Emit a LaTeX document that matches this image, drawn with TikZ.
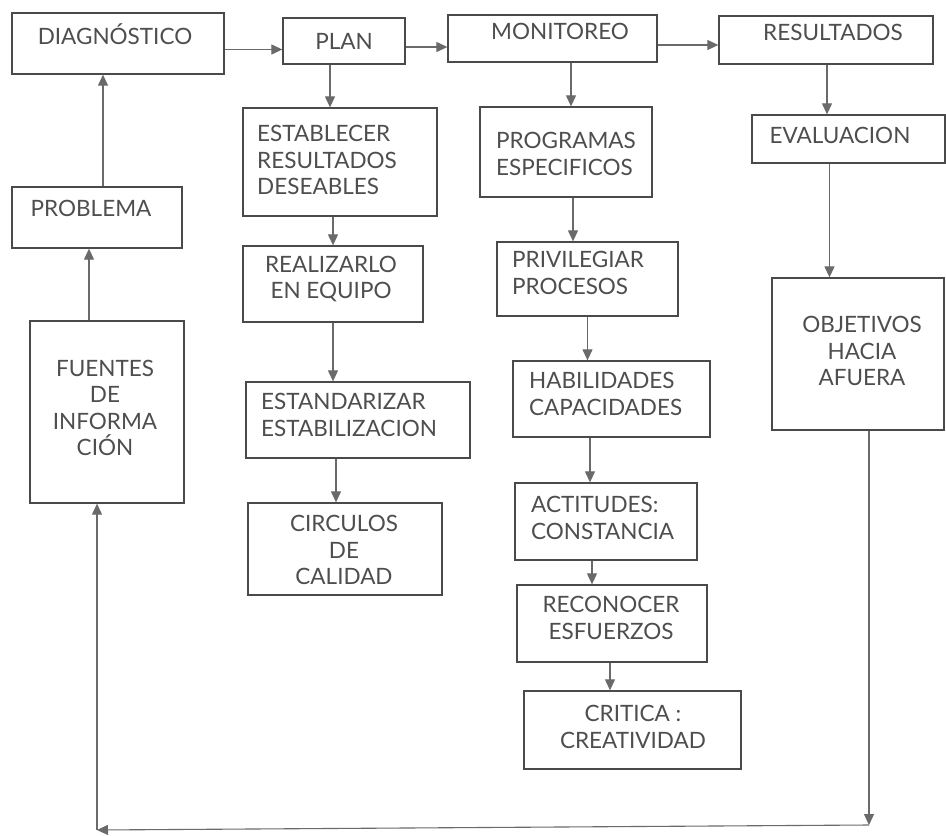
\documentclass[tikz,border=0pt]{standalone}
\usepackage{fontspec}
\setmainfont{Lato}
\usetikzlibrary{arrows.meta}
\definecolor{boxc}{HTML}{4A4A4A}
\definecolor{txtc}{HTML}{4E4E4E}
\definecolor{arrc}{HTML}{6A6A6A}
\tikzset{
  box/.style={draw=boxc, line width=1.3pt, inner sep=0pt},
  txt/.style={text=txtc, font=\fontsize{22.5}{26.5}\selectfont, inner sep=0pt},
  arr/.style={draw=arrc, line width=1.1pt, -{Triangle[length=11pt,width=10pt]}},
}
\newcommand\mkbox[5]{\node[box, minimum width={(#4-#2)*1pt}, minimum height={(#5-#3)*1pt}] (#1) at ({(#2+#4)/2},{(#3+#5)/2}) {};}
\begin{document}
\begin{tikzpicture}[x=1pt,y=-1pt]
\useasboundingbox (0,0) rectangle (946,836);
\fill[white] (0,0) rectangle (946,836);
% boxes
\mkbox{diag}{12}{13}{224}{74}
\mkbox{plan}{283}{18}{405}{64}
\mkbox{mon}{448}{15}{657}{62}
\mkbox{res}{719}{16}{933}{64}
\mkbox{est}{243}{108}{437}{216}
\mkbox{real}{243}{246}{423}{322}
\mkbox{estand}{246}{382}{470}{458}
\mkbox{circ}{248}{503}{442}{595}
\mkbox{prog}{480}{107}{652}{197}
\mkbox{priv}{497}{242}{678}{316}
\mkbox{hab}{513}{361}{710}{437}
\mkbox{act}{515}{483}{697}{560}
\mkbox{rec}{517}{585}{707}{662}
\mkbox{crit}{524}{691}{741}{769}
\mkbox{eval}{752}{115}{945}{163}
\mkbox{obj}{772}{278}{944}{430}
\mkbox{prob}{12}{187}{182}{248}
\mkbox{fuen}{30}{321}{184}{503}
% texts
\node[txt] (tdiag) at (115,34) {DIAGNÓSTICO};
\node[txt] (tplan) at (344,41) {PLAN};
\node[txt] (tmon) at (560,31) {MONITOREO};
\node[txt] (tres) at (833,32) {RESULTADOS};
\node[txt] (teval) at (840,135) {EVALUACION};
\node[txt] (tprob) at (91,208) {PROBLEMA};
\node[txt, align=center] (tfuen) at (105,408) {FUENTES\\DE\\INFORMA\\CIÓN};
\node[txt, align=left, anchor=west] (test) at (257,160) {ESTABLECER\\RESULTADOS\\DESEABLES};
\node[txt, align=center] (treal) at (331,279) {REALIZARLO\\EN EQUIPO};
\node[txt, align=left, anchor=west] (testand) at (261,415) {ESTANDARIZAR\\ESTABILIZACION};
\node[txt, align=center] (tcirc) at (344,550) {CIRCULOS\\DE\\CALIDAD};
\node[txt, align=left, anchor=west] (tprog) at (496,154) {PROGRAMAS\\ESPECIFICOS};
\node[txt, align=left, anchor=west] (tpriv) at (512,273) {PRIVILEGIAR\\PROCESOS};
\node[txt, align=left, anchor=west] (thab) at (529,394) {HABILIDADES\\CAPACIDADES};
\node[txt, align=left, anchor=west] (tact) at (531,518) {ACTITUDES:\\CONSTANCIA};
\node[txt, align=center] (trec) at (611,618) {RECONOCER\\ESFUERZOS};
\node[txt, align=center] (tcrit) at (633,727) {CRITICA :\\CREATIVIDAD};
\node[txt, align=center] (tobj) at (862,351) {OBJETIVOS\\HACIA\\AFUERA};
% horizontal arrows
\draw[arr] ([yshift=-6pt]diag.east) -- ([yshift=-6pt]diag.east -| plan.west);
\draw[arr] ([yshift=-6pt]plan.east) -- ([yshift=-6pt]plan.east -| mon.west);
\draw[arr] ([yshift=-6.5pt]mon.east) -- ([yshift=-6.5pt]mon.east -| res.west);
% vertical arrows
\draw[arr] ([xshift=-14pt]plan.south) -- ([xshift=-14pt]plan.south |- est.north);
\draw[arr] ([xshift=-7pt]est.south) -- ([xshift=-7pt]est.south |- real.north);
\draw[arr] (real.south) -- (real.south |- estand.north);
\draw[arr] ([xshift=-22pt]estand.south) -- ([xshift=-22pt]estand.south |- circ.north);
\draw[arr] ([xshift=18.5pt]mon.south) -- ([xshift=18.5pt]mon.south |- prog.north);
\draw[arr] ([xshift=7pt]prog.south) -- ([xshift=7pt]prog.south |- priv.north);
\draw[arr] (priv.south) -- (priv.south |- hab.north);
\draw[arr] ([xshift=-21.5pt]hab.south) -- ([xshift=-21.5pt]hab.south |- act.north);
\draw[arr] ([xshift=-14pt]act.south) -- ([xshift=-14pt]act.south |- rec.north);
\draw[arr] ([xshift=-2pt]rec.south) -- ([xshift=-2pt]rec.south |- crit.north);
\draw[arr] ([xshift=1pt]res.south) -- ([xshift=1pt]res.south |- eval.north);
\draw[arr] ([xshift=-19pt]eval.south) -- ([xshift=-19pt]eval.south |- obj.north);
\draw[arr] ([xshift=6pt]prob.north) -- ([xshift=6pt]prob.north |- diag.south);
\draw[arr] ([xshift=-18pt]fuen.north) -- ([xshift=-18pt]fuen.north |- prob.south);
% feedback loop
\coordinate (cR) at (869,825);
\coordinate (cL) at (97,830);
\draw[arr] ([xshift=11pt]obj.south) -- ([xshift=11pt]obj.south |- cR);
\draw[arr] (cR) -- (cL);
\draw[arr] (cL) -- (cL |- fuen.south);
\end{tikzpicture}
\end{document}
